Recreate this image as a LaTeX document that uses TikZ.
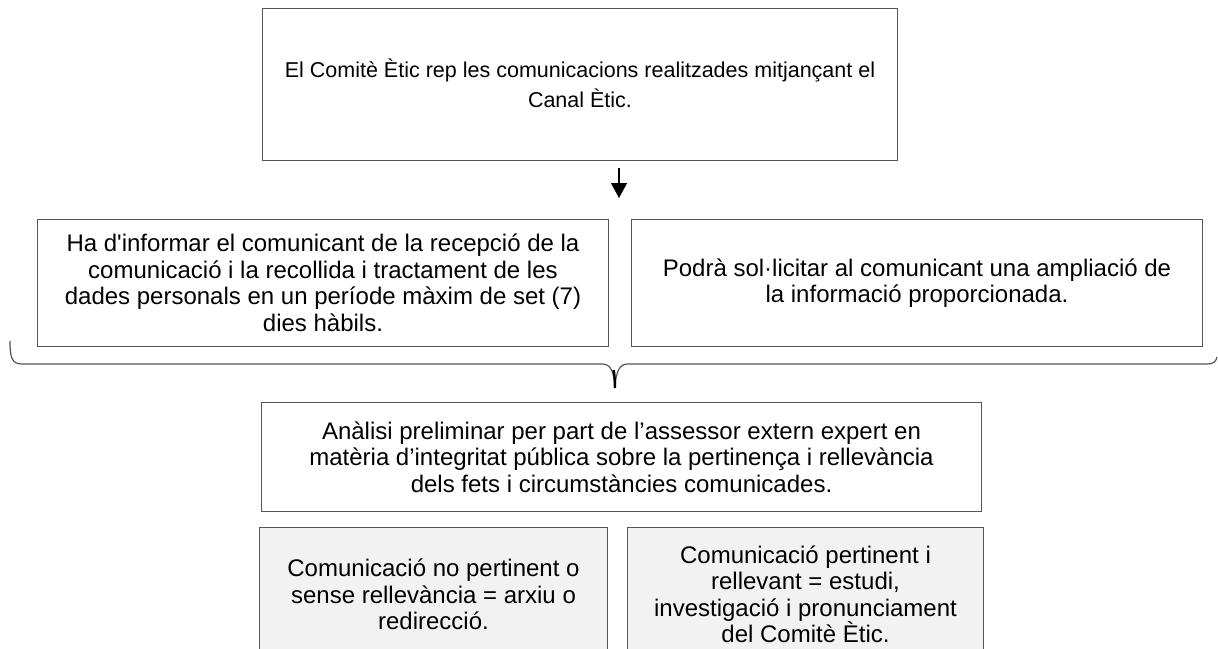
\documentclass[tikz,border=0pt]{standalone}
\usepackage{fontspec}
\setmainfont{Liberation Sans}
\usetikzlibrary{arrows.meta}
\definecolor{vora}{HTML}{555555}
\definecolor{grisclar}{HTML}{F2F2F2}
\begin{document}
\begin{tikzpicture}[x=1pt,y=-1pt,
    caixa/.style={draw=vora, line width=1pt, inner sep=0pt, anchor=north west},
    caixagris/.style={caixa, fill=grisclar},
    textcaixa/.style={align=center, font=\fontsize{24}{26.5}\selectfont},
    fletxa/.style={line width=1.2pt, -{Triangle[length=15pt,width=16pt]}},
    clau/.style={draw=vora, line width=1.2pt}]
        \useasboundingbox (0,0) rectangle (1218,648);
        % caixa de dalt
        \node[caixa, minimum width=635pt, minimum height=152pt] (rep) at (262,8) {};
        \node[textcaixa, font=\fontsize{21.5}{30}\selectfont] (reptxt) at ([yshift=1pt]rep.center) {El Comitè Ètic rep les comunicacions realitzades mitjançant el\\Canal Ètic.};
        \coordinate (fa) at (619,168);
        \coordinate (fb) at (619,198);
        \draw[fletxa] (fa) -- (fb);
        % dues caixes del mig
        \node[caixa, minimum width=571pt, minimum height=127pt] (info) at (37,219) {};
        \node[textcaixa] (infotxt) at (info.center) {Ha d\textquotesingle informar el comunicant de la recepció de la\\comunicació i la recollida i tractament de les\\dades personals en un període màxim de set (7)\\dies hàbils.};
        \node[caixa, minimum width=571pt, minimum height=127pt] (ampl) at (631,219) {};
        \node[textcaixa] (ampltxt) at (ampl.center) {Podrà sol·licitar al comunicant una ampliació de\\la informació proporcionada.};
        % clau
        \coordinate (ce) at (10,341);
        \coordinate (cp) at (615,388);
        \coordinate (cd) at (1217,357);
        \draw[clau] (ce) .. controls (10,358) and (12,364) .. (22,364) -- (602,364)
            .. controls (610,364) and (614,370) .. (cp)
            .. controls (616,370) and (620,364) .. (628,364) -- (1207,364)
            .. controls (1213,364) and (1216,362) .. (cd);
        \draw[line width=2.4pt] (613.6,370) .. controls (614.6,376) .. (cp);
        % analisi
        \node[caixa, minimum width=720pt, minimum height=109pt] (anal) at (261,402) {};
        \node[textcaixa] (analtxt) at (anal.center) {Anàlisi preliminar per part de l’assessor extern expert en\\matèria d’integritat pública sobre la pertinença i rellevància\\dels fets i circumstàncies comunicades.};
        % caixes de baix
        \node[caixagris, minimum width=348pt, minimum height=134pt] (noper) at (259,527) {};
        \node[textcaixa] (nopertxt) at (noper.center) {Comunicació no pertinent o\\sense rellevància = arxiu o\\redirecció.};
        \node[caixagris, minimum width=356pt, minimum height=134pt] (per) at (627,527) {};
        \node[textcaixa] (pertxt) at (per.center) {Comunicació pertinent i\\rellevant = estudi,\\investigació i pronunciament\\del Comitè Ètic.};
\end{tikzpicture}
\end{document}
